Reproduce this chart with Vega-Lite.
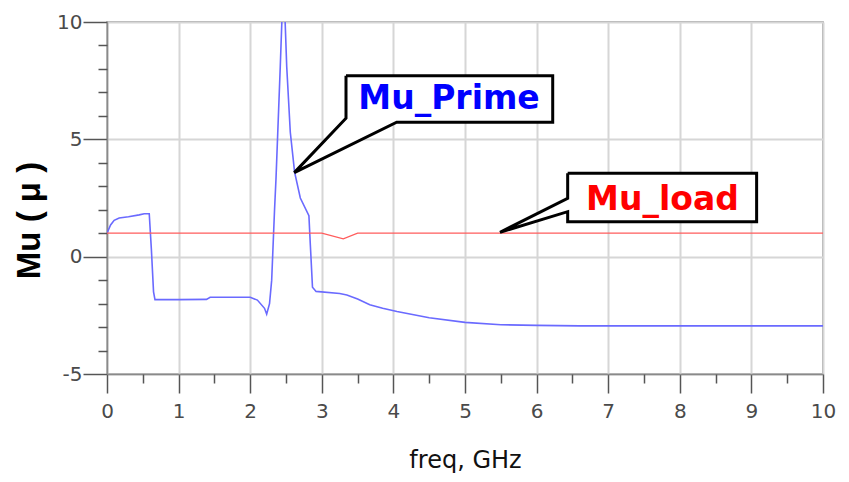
{
  "$schema": "https://vega.github.io/schema/vega-lite/v6.json",
  "width": 716,
  "height": 352,
  "autosize": {"type": "none"},
  "padding": {"left": 107, "top": 22, "right": 26, "bottom": 108},
  "background": "white",
  "config": {
    "view": {"stroke": "#8a8a8a", "strokeWidth": 1.5},
    "axis": {"labelFlush": false, "labelOverlap": false}
  },
  "datasets": {
    "prime": [
      {"f": 0, "mu": 1.0}, {"f": 0.05, "mu": 1.35}, {"f": 0.1, "mu": 1.55}, {"f": 0.17, "mu": 1.65},
      {"f": 0.3, "mu": 1.7}, {"f": 0.45, "mu": 1.78}, {"f": 0.52, "mu": 1.83}, {"f": 0.59, "mu": 1.83},
      {"f": 0.62, "mu": 0.3}, {"f": 0.65, "mu": -1.5}, {"f": 0.67, "mu": -1.83}, {"f": 1.0, "mu": -1.83},
      {"f": 1.39, "mu": -1.82}, {"f": 1.44, "mu": -1.73}, {"f": 2.0, "mu": -1.73}, {"f": 2.1, "mu": -1.85},
      {"f": 2.2, "mu": -2.2}, {"f": 2.23, "mu": -2.45}, {"f": 2.27, "mu": -2.0}, {"f": 2.3, "mu": -1.0},
      {"f": 2.34, "mu": 2.0}, {"f": 2.36, "mu": 3.3}, {"f": 2.42, "mu": 8.1}, {"f": 2.465, "mu": 12},
      {"f": 2.51, "mu": 8.1}, {"f": 2.56, "mu": 5.3}, {"f": 2.62, "mu": 3.6}, {"f": 2.7, "mu": 2.5},
      {"f": 2.82, "mu": 1.75}, {"f": 2.84, "mu": 0.5}, {"f": 2.87, "mu": -1.3}, {"f": 2.92, "mu": -1.48},
      {"f": 3.25, "mu": -1.57}, {"f": 3.35, "mu": -1.63}, {"f": 3.5, "mu": -1.8}, {"f": 3.67, "mu": -2.05},
      {"f": 3.85, "mu": -2.2}, {"f": 4.05, "mu": -2.34}, {"f": 4.5, "mu": -2.6}, {"f": 5.0, "mu": -2.8},
      {"f": 5.5, "mu": -2.9}, {"f": 6.0, "mu": -2.93}, {"f": 6.6, "mu": -2.95}, {"f": 8.0, "mu": -2.95},
      {"f": 10.0, "mu": -2.95}
    ],
    "load": [
      {"f": 0, "mu": 1.0}, {"f": 3.0, "mu": 1.0}, {"f": 3.3, "mu": 0.76}, {"f": 3.5, "mu": 1.0}, {"f": 10.0, "mu": 1.0}
    ],
    "callouts": [
      {"shape": "prime", "i": 0, "x": 3.338, "y": 7.71},
      {"shape": "prime", "i": 1, "x": 6.225, "y": 7.71},
      {"shape": "prime", "i": 2, "x": 6.225, "y": 5.73},
      {"shape": "prime", "i": 3, "x": 4.046, "y": 5.73},
      {"shape": "prime", "i": 4, "x": 2.616, "y": 3.58},
      {"shape": "prime", "i": 5, "x": 3.338, "y": 5.9},
      {"shape": "prime", "i": 6, "x": 3.338, "y": 7.71},
      {"shape": "load", "i": 0, "x": 6.434, "y": 3.553},
      {"shape": "load", "i": 1, "x": 9.073, "y": 3.553},
      {"shape": "load", "i": 2, "x": 9.073, "y": 1.49},
      {"shape": "load", "i": 3, "x": 6.434, "y": 1.49},
      {"shape": "load", "i": 4, "x": 6.434, "y": 1.917},
      {"shape": "load", "i": 5, "x": 5.489, "y": 1.04},
      {"shape": "load", "i": 6, "x": 6.434, "y": 2.487},
      {"shape": "load", "i": 7, "x": 6.434, "y": 3.553}
    ],
    "labels": [
      {"label": "Mu_Prime", "x": 4.777, "y": 6.28},
      {"label": "Mu_load", "x": 7.758, "y": 1.989}
    ]
  },
  "resolve": {"axis": {"x": "independent", "y": "independent"}},
  "layer": [
    {
      "data": {"name": "prime"},
      "mark": {"type": "line", "stroke": "#6a6aff", "strokeWidth": 1.6, "clip": true},
      "encoding": {
        "x": {
          "field": "f", "type": "quantitative",
          "scale": {"domain": [0, 10], "nice": false, "zero": false},
          "axis": {
            "orient": "bottom",
            "values": [0, 1, 2, 3, 4, 5, 6, 7, 8, 9, 10],
            "grid": true, "gridColor": "#d6d6d6", "gridWidth": 2,
            "tickSize": 19, "tickColor": "#555555", "tickWidth": 1.5,
            "domainColor": "#8a8a8a", "domainWidth": 1.5,
            "labelFont": "DejaVu Sans", "labelFontSize": 20, "labelColor": "#4a4a4a", "labelPadding": 8,
            "title": "freq, GHz", "titleFont": "DejaVu Sans", "titleFontSize": 24, "titleFontWeight": "normal",
            "titleColor": "#111111", "titleBaseline": "middle", "titleY": 86
          }
        },
        "y": {
          "field": "mu", "type": "quantitative",
          "scale": {"domain": [-5, 10], "nice": false, "zero": false},
          "axis": {
            "orient": "left",
            "values": [-5, 0, 5, 10],
            "labelExpr": "replace(datum.label, '−', '-')",
            "grid": true, "gridColor": "#d6d6d6", "gridWidth": 2,
            "tickSize": 24, "tickColor": "#555555", "tickWidth": 1.5,
            "domainColor": "#8a8a8a", "domainWidth": 1.5,
            "labelFont": "DejaVu Sans", "labelFontSize": 20, "labelColor": "#4a4a4a", "labelPadding": 1,
            "title": "Mu ( μ )", "titleFont": "Liberation Sans", "titleFontSize": 33, "titleFontWeight": "bold",
            "titleColor": "#000000", "titleAngle": -90, "titleX": -78, "titleY": 198,
            "titleAlign": "center", "titleBaseline": "middle"
          }
        }
      }
    },
    {
      "data": {"name": "load"},
      "mark": {"type": "line", "stroke": "#ff5c5c", "strokeWidth": 1.3, "clip": true},
      "encoding": {
        "x": {
          "field": "f", "type": "quantitative",
          "axis": {
            "orient": "bottom",
            "values": [0.5, 1.5, 2.5, 3.5, 4.5, 5.5, 6.5, 7.5, 8.5, 9.5],
            "grid": false, "labels": false, "domain": false, "title": null,
            "tickSize": 9, "tickColor": "#555555", "tickWidth": 1.5
          }
        },
        "y": {
          "field": "mu", "type": "quantitative",
          "axis": {
            "orient": "left",
            "values": [-4, -3, -2, -1, 1, 2, 3, 4, 6, 7, 8, 9],
            "grid": false, "labels": false, "domain": false, "title": null,
            "tickSize": 9, "tickColor": "#555555", "tickWidth": 1.5
          }
        }
      }
    },
    {
      "data": {"name": "callouts"},
      "mark": {"type": "line", "fill": "white", "stroke": "black", "strokeWidth": 3, "strokeJoin": "miter"},
      "encoding": {
        "x": {"field": "x", "type": "quantitative", "axis": null},
        "y": {"field": "y", "type": "quantitative", "axis": null},
        "detail": {"field": "shape"},
        "order": {"field": "i", "type": "quantitative"}
      }
    },
    {
      "data": {"name": "labels"},
      "mark": {"type": "text", "font": "DejaVu Sans", "fontSize": 33, "fontWeight": "bold", "align": "center", "baseline": "alphabetic"},
      "encoding": {
        "x": {"field": "x", "type": "quantitative", "axis": null},
        "y": {"field": "y", "type": "quantitative", "axis": null},
        "text": {"field": "label"},
        "color": {
          "field": "label", "type": "nominal",
          "scale": {"domain": ["Mu_Prime", "Mu_load"], "range": ["#0000ff", "#ff0000"]},
          "legend": null
        }
      }
    }
  ]
}
